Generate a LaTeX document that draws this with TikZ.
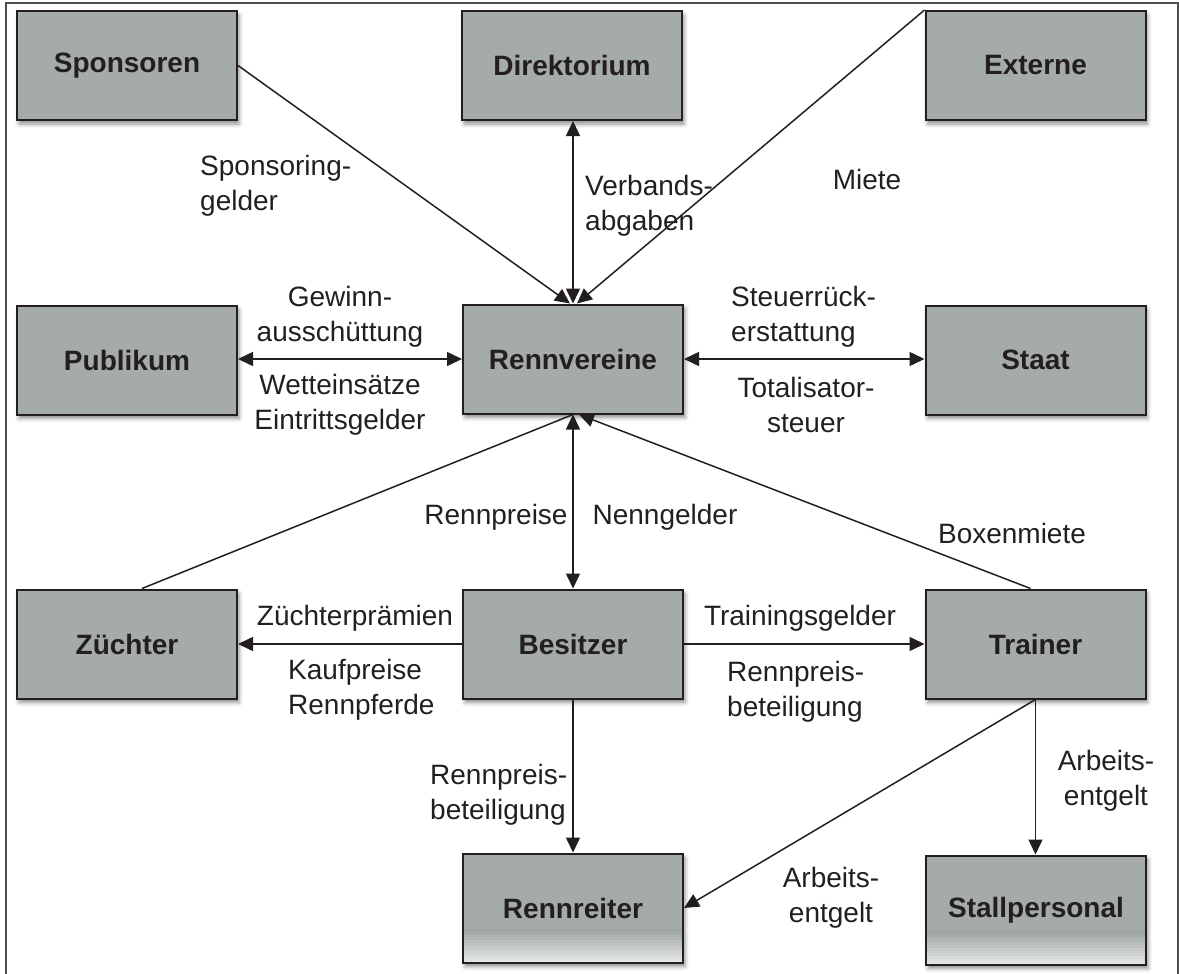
\documentclass[tikz,border=0pt]{standalone}
\usepackage{fontspec}
\setmainfont{Liberation Sans}
\usetikzlibrary{arrows.meta,shadows.blur}
\definecolor{boxgray}{HTML}{A5AAAA}
\definecolor{ink}{HTML}{231F20}
\definecolor{boxlight}{HTML}{E4E6E6}
\tikzset{
  entity/.style={draw=ink, line width=2pt, fill=boxgray, minimum width=220pt,
    minimum height=109pt, inner sep=0pt, font=\fontsize{28}{34}\selectfont\bfseries,
    text=ink, blur shadow={shadow xshift=2pt, shadow yshift=-4pt,
    shadow blur radius=4pt, shadow opacity=45}},
  fadebox/.style={path picture={\foreach \i in {0,...,11}{
      \fill[boxgray!\i0!boxlight]
        ([yshift=\i*2.8pt]path picture bounding box.south west) rectangle
        ([yshift=\i*2.8pt+3pt]path picture bounding box.south east);}},
    postaction={draw=ink, line width=2pt}},
  flow/.style={draw=ink, line width=1.5pt, >={Triangle[length=15pt,width=14pt]}},
  lbl/.style={text=ink, font=\fontsize{28}{35}\selectfont, inner sep=0pt},
  frameline/.style={draw=black!70, line width=1.5pt}
}
\begin{document}
\begin{tikzpicture}[x=1pt,y=-1pt]
\useasboundingbox (0,0) rectangle (1179,974);
\draw[frameline] (6,974) -- (6,3) -- (1178,3) -- (1178,974);

\node[entity] (spons) at (127,65.5) {Sponsoren};
\node[entity] (dir) at (572,65.5) {Direktorium};
\node[entity] (ext) at (1035.5,65.5) {Externe};
\node[entity] (pub) at (127,360) {Publikum};
\node[entity] (renn) at (573,359) {Rennvereine};
\node[entity] (staat) at (1035.5,360) {Staat};
\node[entity] (zuech) at (127,644) {Züchter};
\node[entity] (bes) at (573,644) {Besitzer};
\node[entity] (trainer) at (1035.5,644) {Trainer};
\node[entity,fadebox] (reiter) at (573,908) {Rennreiter};
\node[entity,fadebox] (stall) at (1036,910) {Stallpersonal};

\draw[flow,->] (spons.east) -- ([xshift=-3pt]renn.north);
\draw[flow,->] (ext.north west) -- ([xshift=4pt]renn.north);
\draw[flow,<->] (renn.north) -- (dir.south -| renn.north);
\draw[flow,<->] (pub.east |- renn.west) -- (renn.west);
\draw[flow,<->] (renn.east) -- (staat.west |- renn.east);
\draw[flow] ([xshift=15pt]zuech.north) -- (renn.south);
\draw[flow,->] ([xshift=-5pt]trainer.north) -- ([xshift=6pt]renn.south);
\draw[flow,<->] (renn.south) -- (bes.north);
\draw[flow,->] (bes.west) -- (zuech.east);
\draw[flow,->] (bes.east) -- (trainer.west);
\draw[flow,->] (bes.south) -- (reiter.north);
\draw[flow,->] (trainer.south) -- (reiter.east);
\draw[flow,->] (trainer.south) -- (stall.north -| trainer.south);

\node[lbl,anchor=west,align=left] (l1) at (200,186) {Sponsoring-\\gelder};
\node[lbl,anchor=west,align=left] (l2) at (585,206) {Verbands-\\abgaben};
\node[lbl] (l3) at (867,179) {Miete};
\node[lbl,align=center] (l4) at (340,317) {Gewinn-\\ausschüttung};
\node[lbl,align=center] (l5) at (340,405) {Wetteinsätze\\Eintrittsgelder};
\node[lbl,anchor=west,align=left] (l6) at (731,317) {Steuerrück-\\erstattung};
\node[lbl,align=center] (l7) at (806,405) {Totalisator-\\steuer};
\node[lbl] (l8) at (496,517) {Rennpreise};
\node[lbl] (l9) at (665,517) {Nenngelder};
\node[lbl] (l10) at (1012,533) {Boxenmiete};
\node[lbl] (l11) at (355,618) {Züchterprämien};
\node[lbl,anchor=west,align=left] (l12) at (288,690) {Kaufpreise\\Rennpferde};
\node[lbl] (l13) at (800,618) {Trainingsgelder};
\node[lbl,anchor=west,align=left] (l14) at (727,692) {Rennpreis-\\beteiligung};
\node[lbl,anchor=west,align=left] (l15) at (430,795) {Rennpreis-\\beteiligung};
\node[lbl,align=center] (l16) at (1106,781) {Arbeits-\\entgelt};
\node[lbl,align=center] (l17) at (831,898) {Arbeits-\\entgelt};
\end{tikzpicture}
\end{document}
